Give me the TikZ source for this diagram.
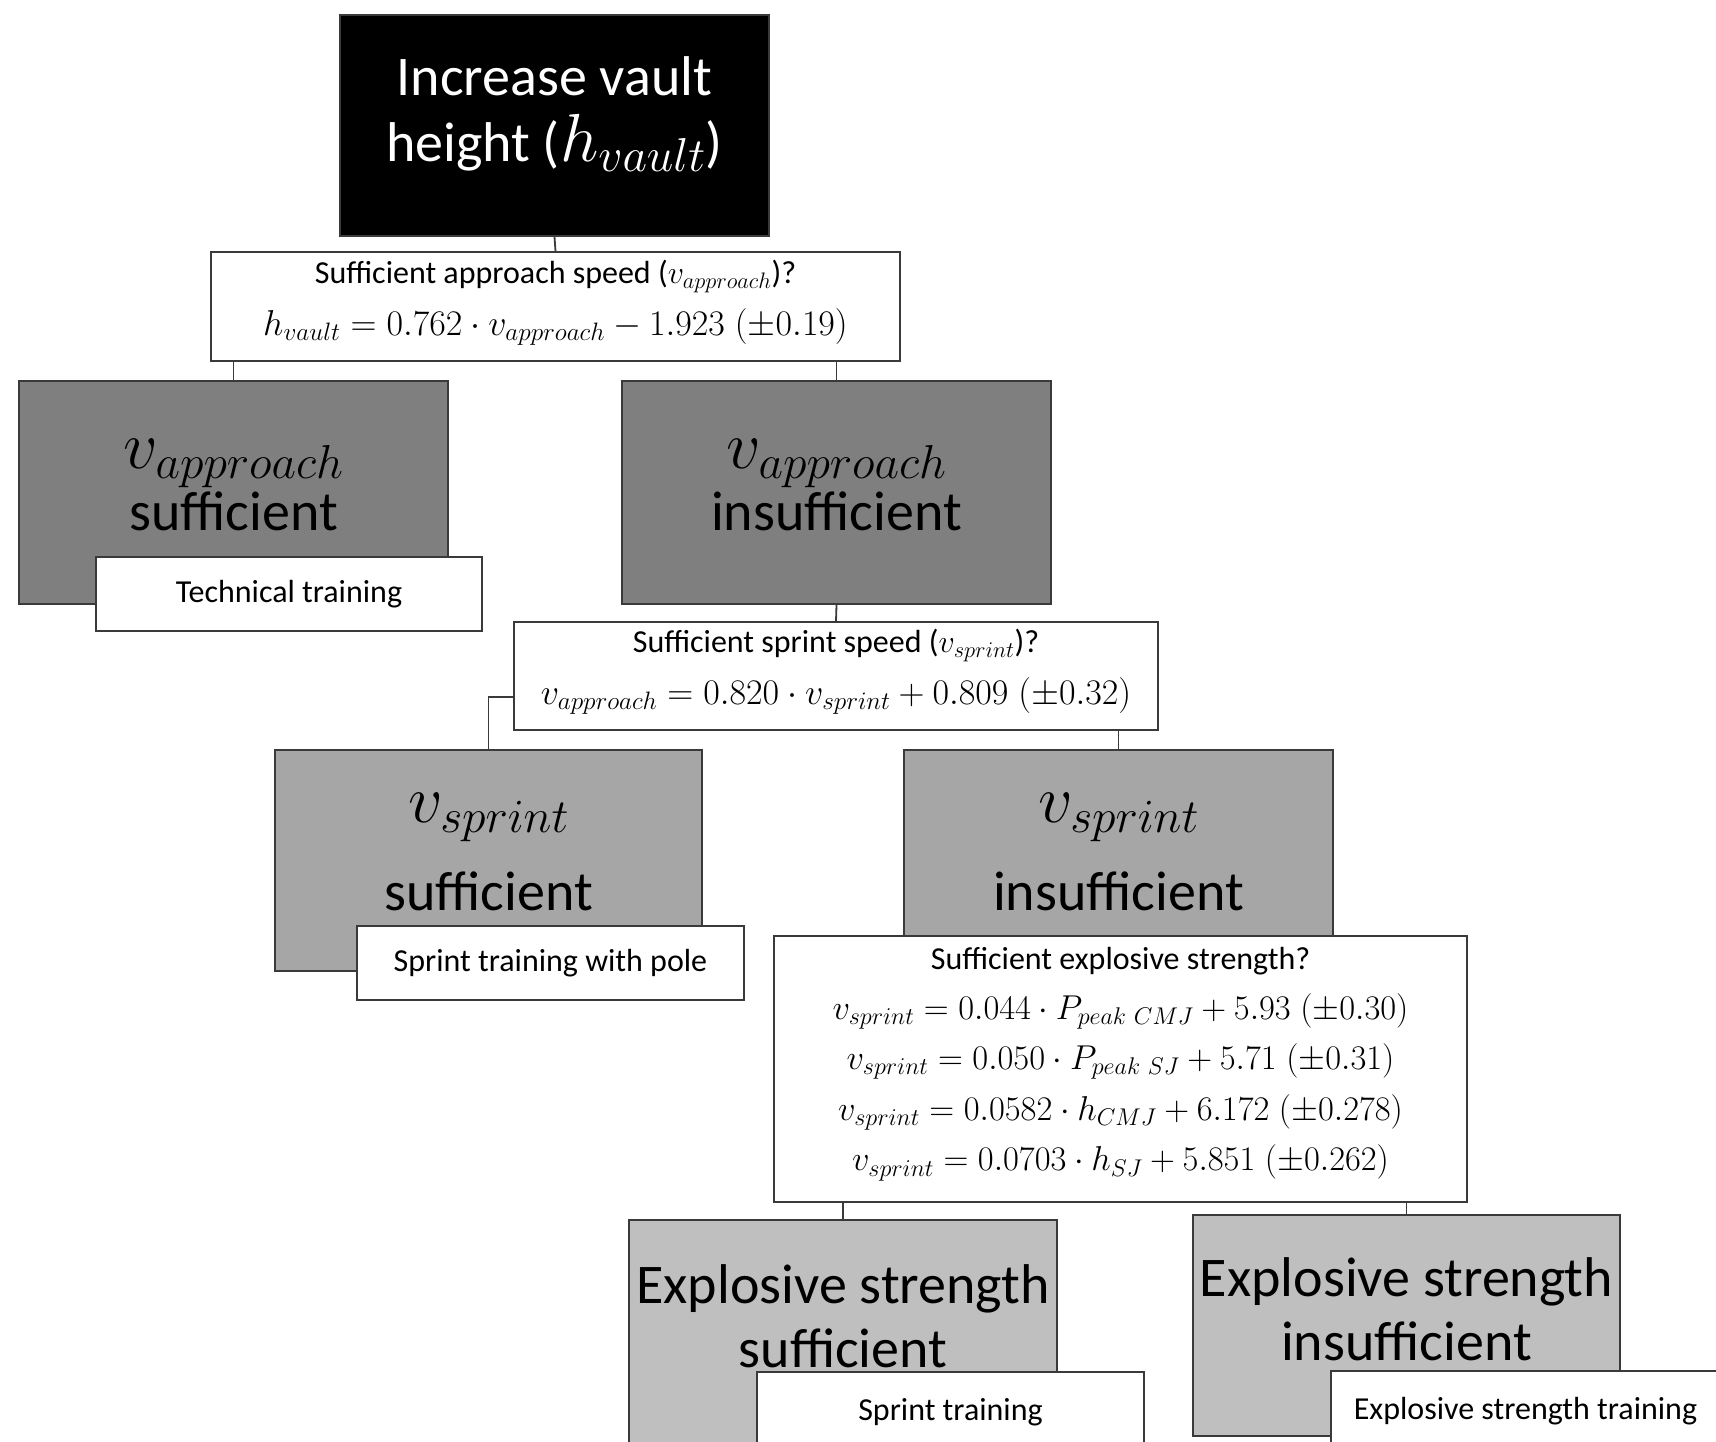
\RequirePackage{fix-cm}
\documentclass[tikz,border=0pt]{standalone}
\usepackage{fontspec}
\setmainfont{Carlito}
\definecolor{dk}{HTML}{7F7F7F}
\definecolor{md}{HTML}{A6A6A6}
\definecolor{lt}{HTML}{BFBFBF}
\definecolor{ln}{HTML}{3A3A3A}
\newcommand{\bigf}{\fontsize{56}{61}\selectfont}
\newcommand{\smf}{\fontsize{32}{36}\selectfont}
\newcommand{\eqf}{\fontsize{36}{38}\selectfont}
\newcommand{\eqg}{\fontsize{34.5}{38}\selectfont}
\newcommand{\bm}[1]{{\fontsize{68}{61}\selectfont$#1$}}
\newcommand{\lines}[2]{\raisebox{#1}[\height][\depth]{\begin{tabular}{@{}c@{}}#2\end{tabular}}}
\tikzset{
  box/.style={rectangle, draw=ln, line width=1.8pt, inner sep=0pt, align=center},
  blackbox/.style={box, fill=black, text=white, font=\bigf},
  darkbox/.style={box, fill=dk, font=\bigf},
  midbox/.style={box, fill=md, font=\bigf},
  litebox/.style={box, fill=lt, font=\bigf},
  qbox/.style={box, fill=white, font=\smf},
  tbox/.style={box, fill=white, font=\smf},
  conn/.style={draw=ln, line width=1.8pt}
}
\begin{document}
\begin{tikzpicture}[x=1pt,y=-1pt]
\clip (0,0) rectangle (1716,1442);
\fill[white] (0,0) rectangle (1716,1442);
% top
\node[blackbox, minimum width=429pt, minimum height=221pt] (top) at (554.5,125.5)
  {\lines{9pt}{Increase vault\\ height (\bm{h_{vault}})}};
\node[qbox, minimum width=689pt, minimum height=109pt] (q1) at (555.5,306.5)
  {\lines{4.5pt}{Sufficient approach speed ($v_{approach}$)?\\[14pt] {\eqf$h_{vault}=0.762\cdot v_{approach}-1.923\;(\pm0.19)$}}};
% level 2
\node[darkbox, minimum width=429pt, minimum height=223pt] (a) at (233.5,492.5)
  {\lines{5.5pt}{\bm{v_{approach}}\\ sufficient}};
\node[darkbox, minimum width=429pt, minimum height=223pt] (b) at (836.5,492.5)
  {\lines{5.5pt}{\bm{v_{approach}}\\ insufficient}};
\node[tbox, minimum width=386pt, minimum height=74pt] (ta) at (289,594) {Technical training};
\node[qbox, minimum width=644pt, minimum height=108pt] (q2) at (836,676)
  {\lines{5pt}{Sufficient sprint speed ($v_{sprint}$)?\\[14pt] {\eqf$v_{approach}=0.820\cdot v_{sprint}+0.809\;(\pm0.32)$}}};
% level 3
\node[midbox, minimum width=427pt, minimum height=221pt] (c) at (488.5,860.5)
  {\lines{6.5pt}{\bm{v_{sprint}}\\[27pt] sufficient}};
\node[midbox, minimum width=429pt, minimum height=221pt] (d) at (1118.5,860.5)
  {\lines{6.5pt}{\bm{v_{sprint}}\\[27pt] insufficient}};
\node[tbox, minimum width=387pt, minimum height=74pt] (tc) at (550.5,963) {Sprint training with pole};
\node[qbox, minimum width=693pt, minimum height=266pt] (q3) at (1120.5,1069)
  {\lines{6pt}{Sufficient explosive strength?\\[13pt]
   {\eqg$v_{sprint}=0.044\cdot P_{peak\ CMJ}+5.93\;(\pm0.30)$}\\[14pt]
   {\eqg$v_{sprint}=0.050\cdot P_{peak\ SJ}+5.71\;(\pm0.31)$}\\[14pt]
   {\eqg$v_{sprint}=0.0582\cdot h_{CMJ}+6.172\;(\pm0.278)$}\\[14pt]
   {\eqg$v_{sprint}=0.0703\cdot h_{SJ}+5.851\;(\pm0.262)$}}};
% level 4
\node[litebox, minimum width=428pt, minimum height=232pt] (e) at (843,1336)
  {\lines{12.5pt}{Explosive strength\\[3pt] sufficient}};
\node[litebox, minimum width=427pt, minimum height=221pt] (f) at (1406.5,1325.5)
  {\lines{9pt}{Explosive strength\\[3pt] insufficient}};
\node[tbox, minimum width=387pt, minimum height=80pt] (te) at (950.5,1412) {Sprint training};
\node[tbox, minimum width=389pt, minimum height=80pt] (tf) at (1525.5,1411) {Explosive strength training};
% connectors
\draw[conn] (top.south) -- (q1.north);
\draw[conn] (q1.south -| a.north) -- (a.north);
\draw[conn] (q1.south -| b.north) -- (b.north);
\draw[conn] (b.south) -- (q2.north);
\draw[conn] ([yshift=-21pt]q2.west) -| (c.north);
\draw[conn] (q2.south -| d.north) -- (d.north);
\draw[conn] (q3.south -| e.north) -- (e.north);
\draw[conn] (q3.south -| f.north) -- (f.north);
\end{tikzpicture}
\end{document}
